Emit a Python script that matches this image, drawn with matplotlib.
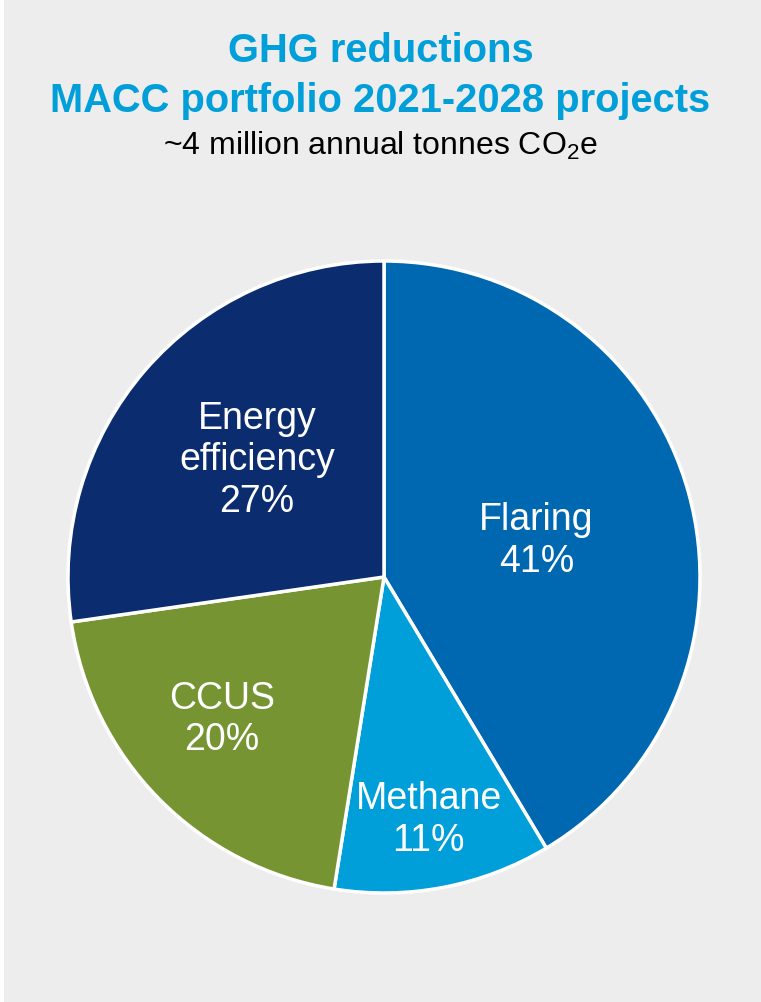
import matplotlib
matplotlib.use("Agg")
import matplotlib.pyplot as plt
from matplotlib.patches import Rectangle
import numpy as np

plt.rcParams['font.family'] = ['Liberation Sans', 'DejaVu Sans']
plt.rcParams['mathtext.fontset'] = 'custom'
plt.rcParams['mathtext.rm'] = 'Liberation Sans'
plt.rcParams['mathtext.it'] = 'Liberation Sans'

categories = ["Flaring", "Methane", "CCUS", "Energy\nefficiency"]
shares = [41, 11, 20, 27]
colors = ["#0067B1", "#009FDA", "#779433", "#0B2C6E"]

# layout: radial label distance and fine offset (pixels)
label_radius = [0.50, 0.78, 0.67, 0.52]
label_shift = [(0, -5), (-2, 0), (-11, 7), (-3, 10)]

W, H = 761, 1003
fig = plt.figure(figsize=(W / 100, H / 100), dpi=100)
fig.patch.set_facecolor("#EDEDED")
fig.add_artist(Rectangle((0, 0), 4 / W, 1, transform=fig.transFigure,
                         facecolor="white", edgecolor="none"))

cx, cy, R = 384, 578, 316
ax = fig.add_axes([(cx - R) / W, (H - cy - R) / H, 2 * R / W, 2 * R / H])
ax.set_facecolor("none")
wedges, _ = ax.pie(shares, colors=colors, startangle=90, counterclock=False,
                   wedgeprops=dict(edgecolor="white", linewidth=2.5))
ax.set_xlim(-1, 1)
ax.set_ylim(-1, 1)
ax.set_aspect("equal")
ax.axis("off")

for w, cat, val, r, (sx, sy) in zip(wedges, categories, shares,
                                     label_radius, label_shift):
    ang = np.deg2rad((w.theta1 + w.theta2) / 2)
    ax.annotate(f"{cat}\n{val}%", xy=(r * np.cos(ang), r * np.sin(ang)),
                xytext=(sx * 0.72, sy * 0.72), textcoords="offset points",
                ha="center", va="center", color="white", fontsize=27,
                linespacing=1.2)

title_color = "#009FDA"
fig.text(0.5, 1 - 51 / H, "GHG reductions", ha="center", va="center",
         fontsize=28.7, fontweight="bold", color=title_color)
fig.text(0.5, 1 - 101 / H, "MACC portfolio 2021-2028 projects", ha="center",
         va="center", fontsize=28.7, fontweight="bold", color=title_color)
fig.text(0.5, 1 - 146 / H, r"~4 million annual tonnes CO$_2$e", ha="center",
         va="center", fontsize=23, color="black")

fig.savefig("out.png", dpi=100, facecolor=fig.get_facecolor())
